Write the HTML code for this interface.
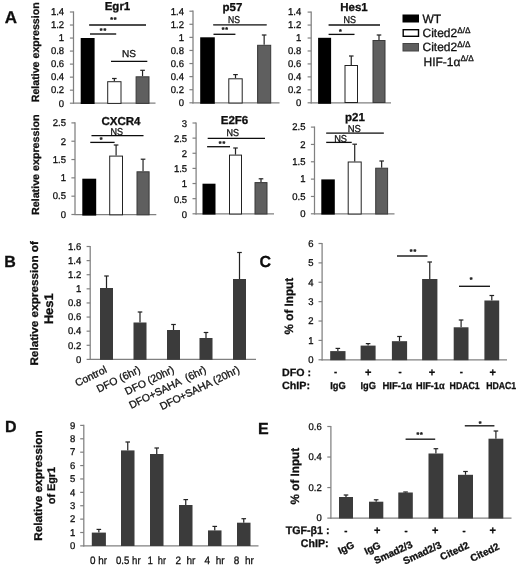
<!DOCTYPE html>
<html><head><meta charset="utf-8"><title>Figure</title>
<style>
html,body{margin:0;padding:0;background:#fff;}
svg{display:block;}
svg text{font-family:"Liberation Sans",sans-serif;fill:#111;stroke:#111;stroke-width:0.3px;text-rendering:geometricPrecision;}
</style></head>
<body>
<svg width="520" height="568" viewBox="0 0 520 568">
<defs><filter id="f" x="0" y="0" width="520" height="568" filterUnits="userSpaceOnUse"><feGaussianBlur stdDeviation="0.5"/></filter></defs>
<rect width="520" height="568" fill="#fff"/>
<g filter="url(#f)">
<text x="4.8" y="23.2" font-size="17" font-weight="bold">A</text>
<text x="39.1" y="102.3" font-size="10.5" font-weight="bold" transform="rotate(-90 39.1 102.3)" textLength="100" lengthAdjust="spacingAndGlyphs">Relative expression</text>
<text x="39.3" y="215" font-size="10.3" font-weight="bold" transform="rotate(-90 39.3 215)" textLength="100.5" lengthAdjust="spacingAndGlyphs">Relative expression</text>
<line x1="73.5" y1="11.4" x2="73.5" y2="103.8" stroke="#808080" stroke-width="1.25"/>
<line x1="73.0" y1="103.2" x2="155.5" y2="103.2" stroke="#808080" stroke-width="1.25"/>
<line x1="69.9" y1="103.2" x2="73.5" y2="103.2" stroke="#808080" stroke-width="1.2"/>
<text transform="translate(64.1 106.5) scale(0.97 1)" font-size="9.8" text-anchor="end">0</text>
<line x1="69.9" y1="90.17142857142858" x2="73.5" y2="90.17142857142858" stroke="#808080" stroke-width="1.2"/>
<text transform="translate(64.1 93.47) scale(0.97 1)" font-size="9.8" text-anchor="end">0.2</text>
<line x1="69.9" y1="77.14285714285714" x2="73.5" y2="77.14285714285714" stroke="#808080" stroke-width="1.2"/>
<text transform="translate(64.1 80.44) scale(0.97 1)" font-size="9.8" text-anchor="end">0.4</text>
<line x1="69.9" y1="64.11428571428571" x2="73.5" y2="64.11428571428571" stroke="#808080" stroke-width="1.2"/>
<text transform="translate(64.1 67.41) scale(0.97 1)" font-size="9.8" text-anchor="end">0.6</text>
<line x1="69.9" y1="51.08571428571428" x2="73.5" y2="51.08571428571428" stroke="#808080" stroke-width="1.2"/>
<text transform="translate(64.1 54.39) scale(0.97 1)" font-size="9.8" text-anchor="end">0.8</text>
<line x1="69.9" y1="38.05714285714285" x2="73.5" y2="38.05714285714285" stroke="#808080" stroke-width="1.2"/>
<text transform="translate(64.1 41.36) scale(0.97 1)" font-size="9.8" text-anchor="end">1</text>
<line x1="69.9" y1="25.028571428571425" x2="73.5" y2="25.028571428571425" stroke="#808080" stroke-width="1.2"/>
<text transform="translate(64.1 28.33) scale(0.97 1)" font-size="9.8" text-anchor="end">1.2</text>
<line x1="69.9" y1="12.0" x2="73.5" y2="12.0" stroke="#808080" stroke-width="1.2"/>
<text transform="translate(64.1 15.3) scale(0.97 1)" font-size="9.8" text-anchor="end">1.4</text>
<rect x="80.7" y="38" width="13.899999999999991" height="66" fill="#000"/>
<line x1="114.35" y1="78.5" x2="114.35" y2="81.2" stroke="#222" stroke-width="1.2"/>
<line x1="112.05" y1="78.5" x2="116.64999999999999" y2="78.5" stroke="#222" stroke-width="1.2"/>
<rect x="107.7" y="81.7" width="13.299999999999997" height="21.700000000000003" fill="#fff" stroke="#222" stroke-width="1"/>
<line x1="142.55" y1="70.3" x2="142.55" y2="76.3" stroke="#222" stroke-width="1.2"/>
<line x1="140.25" y1="70.3" x2="144.85000000000002" y2="70.3" stroke="#222" stroke-width="1.2"/>
<rect x="136.1" y="76.8" width="12.900000000000006" height="26.60000000000001" fill="#5e5e5e" stroke="#3a3a3a" stroke-width="1"/>
<text x="117.5" y="10" font-size="11.5" text-anchor="middle" font-weight="bold">Egr1</text>
<line x1="89.2" y1="25" x2="146" y2="25" stroke="#0a0a0a" stroke-width="1.3"/>
<line x1="90" y1="34" x2="116.2" y2="34" stroke="#0a0a0a" stroke-width="1.3"/>
<line x1="111" y1="61.3" x2="147.3" y2="61.3" stroke="#0a0a0a" stroke-width="1.3"/>
<text x="111.6" y="22.44" font-size="7" font-weight="bold" text-anchor="middle" stroke-width="0.5">*</text>
<text x="115.2" y="22.44" font-size="7" font-weight="bold" text-anchor="middle" stroke-width="0.5">*</text>
<text x="101.2" y="33.24" font-size="7" font-weight="bold" text-anchor="middle" stroke-width="0.5">*</text>
<text x="104.8" y="33.24" font-size="7" font-weight="bold" text-anchor="middle" stroke-width="0.5">*</text>
<text x="122" y="56.5" font-size="10" textLength="14" lengthAdjust="spacingAndGlyphs">NS</text>
<line x1="193" y1="10.6" x2="193" y2="103.39999999999999" stroke="#808080" stroke-width="1.25"/>
<line x1="192.5" y1="102.8" x2="279.5" y2="102.8" stroke="#808080" stroke-width="1.25"/>
<line x1="189.4" y1="102.8" x2="193" y2="102.8" stroke="#808080" stroke-width="1.2"/>
<text transform="translate(184 106.1) scale(0.97 1)" font-size="9.8" text-anchor="end">0</text>
<line x1="189.4" y1="89.71428571428571" x2="193" y2="89.71428571428571" stroke="#808080" stroke-width="1.2"/>
<text transform="translate(184 93.01) scale(0.97 1)" font-size="9.8" text-anchor="end">0.2</text>
<line x1="189.4" y1="76.62857142857142" x2="193" y2="76.62857142857142" stroke="#808080" stroke-width="1.2"/>
<text transform="translate(184 79.93) scale(0.97 1)" font-size="9.8" text-anchor="end">0.4</text>
<line x1="189.4" y1="63.542857142857144" x2="193" y2="63.542857142857144" stroke="#808080" stroke-width="1.2"/>
<text transform="translate(184 66.84) scale(0.97 1)" font-size="9.8" text-anchor="end">0.6</text>
<line x1="189.4" y1="50.45714285714285" x2="193" y2="50.45714285714285" stroke="#808080" stroke-width="1.2"/>
<text transform="translate(184 53.76) scale(0.97 1)" font-size="9.8" text-anchor="end">0.8</text>
<line x1="189.4" y1="37.37142857142857" x2="193" y2="37.37142857142857" stroke="#808080" stroke-width="1.2"/>
<text transform="translate(184 40.67) scale(0.97 1)" font-size="9.8" text-anchor="end">1</text>
<line x1="189.4" y1="24.285714285714292" x2="193" y2="24.285714285714292" stroke="#808080" stroke-width="1.2"/>
<text transform="translate(184 27.59) scale(0.97 1)" font-size="9.8" text-anchor="end">1.2</text>
<line x1="189.4" y1="11.200000000000003" x2="193" y2="11.200000000000003" stroke="#808080" stroke-width="1.2"/>
<text transform="translate(184 14.5) scale(0.97 1)" font-size="9.8" text-anchor="end">1.4</text>
<rect x="200.2" y="37.3" width="14.600000000000023" height="66.5" fill="#000"/>
<line x1="235.5" y1="74.6" x2="235.5" y2="78.3" stroke="#222" stroke-width="1.2"/>
<line x1="233.2" y1="74.6" x2="237.8" y2="74.6" stroke="#222" stroke-width="1.2"/>
<rect x="228.8" y="78.8" width="13.399999999999977" height="24.200000000000003" fill="#fff" stroke="#222" stroke-width="1"/>
<line x1="264.15" y1="35" x2="264.15" y2="44.8" stroke="#222" stroke-width="1.2"/>
<line x1="261.84999999999997" y1="35" x2="266.45" y2="35" stroke="#222" stroke-width="1.2"/>
<rect x="257.6" y="45.3" width="13.099999999999966" height="57.7" fill="#5e5e5e" stroke="#3a3a3a" stroke-width="1"/>
<text x="232.5" y="11" font-size="11.5" text-anchor="middle" font-weight="bold">p57</text>
<line x1="213.2" y1="24.8" x2="266.7" y2="24.8" stroke="#0a0a0a" stroke-width="1.3"/>
<line x1="213.5" y1="34.3" x2="235.4" y2="34.3" stroke="#0a0a0a" stroke-width="1.3"/>
<text x="228" y="22.5" font-size="10" textLength="12" lengthAdjust="spacingAndGlyphs">NS</text>
<text x="223.0" y="32.44" font-size="7" font-weight="bold" text-anchor="middle" stroke-width="0.5">*</text>
<text x="226.6" y="32.44" font-size="7" font-weight="bold" text-anchor="middle" stroke-width="0.5">*</text>
<line x1="311.2" y1="11.5" x2="311.2" y2="103.39999999999999" stroke="#808080" stroke-width="1.25"/>
<line x1="310.7" y1="102.8" x2="391" y2="102.8" stroke="#808080" stroke-width="1.25"/>
<line x1="307.59999999999997" y1="102.8" x2="311.2" y2="102.8" stroke="#808080" stroke-width="1.2"/>
<text transform="translate(301.2 106.1) scale(0.97 1)" font-size="9.8" text-anchor="end">0</text>
<line x1="307.59999999999997" y1="89.84285714285714" x2="311.2" y2="89.84285714285714" stroke="#808080" stroke-width="1.2"/>
<text transform="translate(301.2 93.14) scale(0.97 1)" font-size="9.8" text-anchor="end">0.2</text>
<line x1="307.59999999999997" y1="76.88571428571427" x2="311.2" y2="76.88571428571427" stroke="#808080" stroke-width="1.2"/>
<text transform="translate(301.2 80.19) scale(0.97 1)" font-size="9.8" text-anchor="end">0.4</text>
<line x1="307.59999999999997" y1="63.92857142857142" x2="311.2" y2="63.92857142857142" stroke="#808080" stroke-width="1.2"/>
<text transform="translate(301.2 67.23) scale(0.97 1)" font-size="9.8" text-anchor="end">0.6</text>
<line x1="307.59999999999997" y1="50.97142857142856" x2="311.2" y2="50.97142857142856" stroke="#808080" stroke-width="1.2"/>
<text transform="translate(301.2 54.27) scale(0.97 1)" font-size="9.8" text-anchor="end">0.8</text>
<line x1="307.59999999999997" y1="38.014285714285705" x2="311.2" y2="38.014285714285705" stroke="#808080" stroke-width="1.2"/>
<text transform="translate(301.2 41.31) scale(0.97 1)" font-size="9.8" text-anchor="end">1</text>
<line x1="307.59999999999997" y1="25.05714285714285" x2="311.2" y2="25.05714285714285" stroke="#808080" stroke-width="1.2"/>
<text transform="translate(301.2 28.36) scale(0.97 1)" font-size="9.8" text-anchor="end">1.2</text>
<line x1="307.59999999999997" y1="12.099999999999994" x2="311.2" y2="12.099999999999994" stroke="#808080" stroke-width="1.2"/>
<text transform="translate(301.2 15.4) scale(0.97 1)" font-size="9.8" text-anchor="end">1.4</text>
<rect x="318.1" y="37.8" width="13.0" height="66.0" fill="#000"/>
<line x1="351.25" y1="56" x2="351.25" y2="65" stroke="#222" stroke-width="1.2"/>
<line x1="348.95" y1="56" x2="353.55" y2="56" stroke="#222" stroke-width="1.2"/>
<rect x="345.0" y="65.5" width="12.5" height="37.0" fill="#fff" stroke="#222" stroke-width="1"/>
<line x1="379.0" y1="35" x2="379.0" y2="40" stroke="#222" stroke-width="1.2"/>
<line x1="376.7" y1="35" x2="381.3" y2="35" stroke="#222" stroke-width="1.2"/>
<rect x="373.0" y="40.5" width="12.0" height="62.0" fill="#5e5e5e" stroke="#3a3a3a" stroke-width="1"/>
<text x="354" y="11" font-size="11.5" text-anchor="middle" font-weight="bold">Hes1</text>
<line x1="328.6" y1="25" x2="380" y2="25" stroke="#0a0a0a" stroke-width="1.3"/>
<line x1="328.6" y1="34.4" x2="354.5" y2="34.4" stroke="#0a0a0a" stroke-width="1.3"/>
<text x="343.5" y="22.5" font-size="10" textLength="12.5" lengthAdjust="spacingAndGlyphs">NS</text>
<text x="340.4" y="33.54" font-size="7" font-weight="bold" text-anchor="middle" stroke-width="0.5">*</text>
<rect x="402.5" y="14.5" width="16.5" height="8" fill="#000"/>
<rect x="403.2" y="29.7" width="15.3" height="6.6" fill="#fff" stroke="#000" stroke-width="1.4"/>
<rect x="403" y="43.5" width="15.5" height="7.5" fill="#5e5e5e" stroke="#444" stroke-width="1"/>
<text x="422.5" y="22.5" font-size="12">WT</text>
<text x="422.5" y="37" font-size="12">Cited2<tspan font-size="8.2" dy="-4.3">Δ/Δ</tspan></text>
<text x="422.5" y="51" font-size="12">Cited2<tspan font-size="8.2" dy="-4.3">Δ/Δ</tspan></text>
<text x="423.5" y="65.5" font-size="12">HIF-1α<tspan font-size="8.2" dy="-4.3">Δ/Δ</tspan></text>
<line x1="75" y1="122.30000000000001" x2="75" y2="215.1" stroke="#808080" stroke-width="1.25"/>
<line x1="74.5" y1="214.5" x2="156.3" y2="214.5" stroke="#808080" stroke-width="1.25"/>
<line x1="71.4" y1="214.5" x2="75" y2="214.5" stroke="#808080" stroke-width="1.2"/>
<text transform="translate(66 217.8) scale(0.97 1)" font-size="9.8" text-anchor="end">0</text>
<line x1="71.4" y1="196.18" x2="75" y2="196.18" stroke="#808080" stroke-width="1.2"/>
<text transform="translate(66 199.48) scale(0.97 1)" font-size="9.8" text-anchor="end">0.5</text>
<line x1="71.4" y1="177.86" x2="75" y2="177.86" stroke="#808080" stroke-width="1.2"/>
<text transform="translate(66 181.16) scale(0.97 1)" font-size="9.8" text-anchor="end">1</text>
<line x1="71.4" y1="159.54000000000002" x2="75" y2="159.54000000000002" stroke="#808080" stroke-width="1.2"/>
<text transform="translate(66 162.84) scale(0.97 1)" font-size="9.8" text-anchor="end">1.5</text>
<line x1="71.4" y1="141.22" x2="75" y2="141.22" stroke="#808080" stroke-width="1.2"/>
<text transform="translate(66 144.52) scale(0.97 1)" font-size="9.8" text-anchor="end">2</text>
<line x1="71.4" y1="122.9" x2="75" y2="122.9" stroke="#808080" stroke-width="1.2"/>
<text transform="translate(66 126.2) scale(0.97 1)" font-size="9.8" text-anchor="end">2.5</text>
<rect x="82.3" y="178.7" width="13.900000000000006" height="36.900000000000006" fill="#000"/>
<line x1="116.1" y1="145" x2="116.1" y2="155.6" stroke="#222" stroke-width="1.2"/>
<line x1="113.8" y1="145" x2="118.39999999999999" y2="145" stroke="#222" stroke-width="1.2"/>
<rect x="109.7" y="156.1" width="12.799999999999997" height="58.70000000000002" fill="#fff" stroke="#222" stroke-width="1"/>
<line x1="143.05" y1="159.2" x2="143.05" y2="171.3" stroke="#222" stroke-width="1.2"/>
<line x1="140.75" y1="159.2" x2="145.35000000000002" y2="159.2" stroke="#222" stroke-width="1.2"/>
<rect x="137.0" y="171.8" width="12.099999999999994" height="43.0" fill="#5e5e5e" stroke="#3a3a3a" stroke-width="1"/>
<text x="121" y="124.5" font-size="11.5" text-anchor="middle" font-weight="bold">CXCR4</text>
<line x1="91.5" y1="135.7" x2="143.5" y2="135.7" stroke="#0a0a0a" stroke-width="1.3"/>
<line x1="90.3" y1="142.4" x2="114.6" y2="142.4" stroke="#0a0a0a" stroke-width="1.3"/>
<text x="110.6" y="135.0" font-size="10" textLength="12.5" lengthAdjust="spacingAndGlyphs">NS</text>
<text x="101.0" y="141.74" font-size="7" font-weight="bold" text-anchor="middle" stroke-width="0.5">*</text>
<line x1="196.1" y1="122.4" x2="196.1" y2="214.4" stroke="#808080" stroke-width="1.25"/>
<line x1="195.6" y1="213.8" x2="274" y2="213.8" stroke="#808080" stroke-width="1.25"/>
<line x1="192.5" y1="213.8" x2="196.1" y2="213.8" stroke="#808080" stroke-width="1.2"/>
<text transform="translate(187.1 217.7) scale(0.97 1)" font-size="9.8" text-anchor="end">0</text>
<line x1="192.5" y1="198.66666666666669" x2="196.1" y2="198.66666666666669" stroke="#808080" stroke-width="1.2"/>
<text transform="translate(187.1 202.57) scale(0.97 1)" font-size="9.8" text-anchor="end">0.5</text>
<line x1="192.5" y1="183.53333333333333" x2="196.1" y2="183.53333333333333" stroke="#808080" stroke-width="1.2"/>
<text transform="translate(187.1 187.43) scale(0.97 1)" font-size="9.8" text-anchor="end">1</text>
<line x1="192.5" y1="168.4" x2="196.1" y2="168.4" stroke="#808080" stroke-width="1.2"/>
<text transform="translate(187.1 172.3) scale(0.97 1)" font-size="9.8" text-anchor="end">1.5</text>
<line x1="192.5" y1="153.26666666666668" x2="196.1" y2="153.26666666666668" stroke="#808080" stroke-width="1.2"/>
<text transform="translate(187.1 157.17) scale(0.97 1)" font-size="9.8" text-anchor="end">2</text>
<line x1="192.5" y1="138.13333333333333" x2="196.1" y2="138.13333333333333" stroke="#808080" stroke-width="1.2"/>
<text transform="translate(187.1 142.03) scale(0.97 1)" font-size="9.8" text-anchor="end">2.5</text>
<line x1="192.5" y1="123.0" x2="196.1" y2="123.0" stroke="#808080" stroke-width="1.2"/>
<text transform="translate(187.1 126.9) scale(0.97 1)" font-size="9.8" text-anchor="end">3</text>
<rect x="202.5" y="183.7" width="13.0" height="30.900000000000006" fill="#000"/>
<line x1="235.5" y1="148" x2="235.5" y2="154.6" stroke="#222" stroke-width="1.2"/>
<line x1="233.2" y1="148" x2="237.8" y2="148" stroke="#222" stroke-width="1.2"/>
<rect x="229.5" y="155.1" width="12" height="58.900000000000006" fill="#fff" stroke="#222" stroke-width="1"/>
<line x1="261.0" y1="178.8" x2="261.0" y2="182.1" stroke="#222" stroke-width="1.2"/>
<line x1="258.7" y1="178.8" x2="263.3" y2="178.8" stroke="#222" stroke-width="1.2"/>
<rect x="255.0" y="182.6" width="12.0" height="31.400000000000006" fill="#5e5e5e" stroke="#3a3a3a" stroke-width="1"/>
<text x="234.5" y="124" font-size="11.5" text-anchor="middle" font-weight="bold">E2F6</text>
<line x1="207.7" y1="138.3" x2="265" y2="138.3" stroke="#0a0a0a" stroke-width="1.3"/>
<line x1="207.1" y1="146.7" x2="230" y2="146.7" stroke="#0a0a0a" stroke-width="1.3"/>
<text x="226.5" y="135.7" font-size="10" textLength="12.5" lengthAdjust="spacingAndGlyphs">NS</text>
<text x="220.2" y="146.14" font-size="7" font-weight="bold" text-anchor="middle" stroke-width="0.5">*</text>
<text x="223.8" y="146.14" font-size="7" font-weight="bold" text-anchor="middle" stroke-width="0.5">*</text>
<line x1="314.5" y1="126.5" x2="314.5" y2="214.4" stroke="#808080" stroke-width="1.25"/>
<line x1="314.0" y1="213.8" x2="394.5" y2="213.8" stroke="#808080" stroke-width="1.25"/>
<line x1="310.9" y1="213.8" x2="314.5" y2="213.8" stroke="#808080" stroke-width="1.2"/>
<text transform="translate(305.5 217.1) scale(0.97 1)" font-size="9.8" text-anchor="end">0</text>
<line x1="310.9" y1="196.46" x2="314.5" y2="196.46" stroke="#808080" stroke-width="1.2"/>
<text transform="translate(305.5 199.76) scale(0.97 1)" font-size="9.8" text-anchor="end">0.5</text>
<line x1="310.9" y1="179.12" x2="314.5" y2="179.12" stroke="#808080" stroke-width="1.2"/>
<text transform="translate(305.5 182.42) scale(0.97 1)" font-size="9.8" text-anchor="end">1</text>
<line x1="310.9" y1="161.78" x2="314.5" y2="161.78" stroke="#808080" stroke-width="1.2"/>
<text transform="translate(305.5 165.08) scale(0.97 1)" font-size="9.8" text-anchor="end">1.5</text>
<line x1="310.9" y1="144.44" x2="314.5" y2="144.44" stroke="#808080" stroke-width="1.2"/>
<text transform="translate(305.5 147.74) scale(0.97 1)" font-size="9.8" text-anchor="end">2</text>
<line x1="310.9" y1="127.1" x2="314.5" y2="127.1" stroke="#808080" stroke-width="1.2"/>
<text transform="translate(305.5 130.4) scale(0.97 1)" font-size="9.8" text-anchor="end">2.5</text>
<rect x="321.3" y="179.4" width="13.5" height="35.19999999999999" fill="#000"/>
<line x1="354.7" y1="144.2" x2="354.7" y2="161.5" stroke="#222" stroke-width="1.2"/>
<line x1="352.4" y1="144.2" x2="357.0" y2="144.2" stroke="#222" stroke-width="1.2"/>
<rect x="348.2" y="162.0" width="13.0" height="52.0" fill="#fff" stroke="#222" stroke-width="1"/>
<line x1="381.65" y1="161" x2="381.65" y2="167.7" stroke="#222" stroke-width="1.2"/>
<line x1="379.34999999999997" y1="161" x2="383.95" y2="161" stroke="#222" stroke-width="1.2"/>
<rect x="375.7" y="168.2" width="11.900000000000034" height="45.80000000000001" fill="#5e5e5e" stroke="#3a3a3a" stroke-width="1"/>
<text x="355" y="121" font-size="11.5" text-anchor="middle" font-weight="bold">p21</text>
<line x1="326.2" y1="133.1" x2="383.8" y2="133.1" stroke="#0a0a0a" stroke-width="1.3"/>
<line x1="326.2" y1="142.4" x2="351.7" y2="142.4" stroke="#0a0a0a" stroke-width="1.3"/>
<text x="347.7" y="132.2" font-size="10" textLength="13.1" lengthAdjust="spacingAndGlyphs">NS</text>
<text x="334.2" y="141.89999999999998" font-size="10" textLength="12.8" lengthAdjust="spacingAndGlyphs">NS</text>
<text x="4.2" y="267" font-size="16" font-weight="bold">B</text>
<text x="38.2" y="365.6" font-size="11" font-weight="bold" transform="rotate(-90 38.2 365.6)" textLength="124.5" lengthAdjust="spacingAndGlyphs">Relative expression of</text>
<text x="52.6" y="324.3" font-size="12.5" font-weight="bold" transform="rotate(-90 52.6 324.3)" textLength="31" lengthAdjust="spacingAndGlyphs">Hes1</text>
<line x1="90.2" y1="245.9" x2="90.2" y2="360.0" stroke="#808080" stroke-width="1.25"/>
<line x1="89.7" y1="359.4" x2="256" y2="359.4" stroke="#808080" stroke-width="1.25"/>
<line x1="86.60000000000001" y1="359.4" x2="90.2" y2="359.4" stroke="#808080" stroke-width="1.2"/>
<text transform="translate(81.2 362.7) scale(0.97 1)" font-size="9.8" text-anchor="end">0</text>
<line x1="86.60000000000001" y1="345.28749999999997" x2="90.2" y2="345.28749999999997" stroke="#808080" stroke-width="1.2"/>
<text transform="translate(81.2 348.59) scale(0.97 1)" font-size="9.8" text-anchor="end">0.2</text>
<line x1="86.60000000000001" y1="331.17499999999995" x2="90.2" y2="331.17499999999995" stroke="#808080" stroke-width="1.2"/>
<text transform="translate(81.2 334.47) scale(0.97 1)" font-size="9.8" text-anchor="end">0.4</text>
<line x1="86.60000000000001" y1="317.0625" x2="90.2" y2="317.0625" stroke="#808080" stroke-width="1.2"/>
<text transform="translate(81.2 320.36) scale(0.97 1)" font-size="9.8" text-anchor="end">0.6</text>
<line x1="86.60000000000001" y1="302.95" x2="90.2" y2="302.95" stroke="#808080" stroke-width="1.2"/>
<text transform="translate(81.2 306.25) scale(0.97 1)" font-size="9.8" text-anchor="end">0.8</text>
<line x1="86.60000000000001" y1="288.8375" x2="90.2" y2="288.8375" stroke="#808080" stroke-width="1.2"/>
<text transform="translate(81.2 292.14) scale(0.97 1)" font-size="9.8" text-anchor="end">1</text>
<line x1="86.60000000000001" y1="274.725" x2="90.2" y2="274.725" stroke="#808080" stroke-width="1.2"/>
<text transform="translate(81.2 278.03) scale(0.97 1)" font-size="9.8" text-anchor="end">1.2</text>
<line x1="86.60000000000001" y1="260.6125" x2="90.2" y2="260.6125" stroke="#808080" stroke-width="1.2"/>
<text transform="translate(81.2 263.91) scale(0.97 1)" font-size="9.8" text-anchor="end">1.4</text>
<line x1="86.60000000000001" y1="246.5" x2="90.2" y2="246.5" stroke="#808080" stroke-width="1.2"/>
<text transform="translate(81.2 249.8) scale(0.97 1)" font-size="9.8" text-anchor="end">1.6</text>
<line x1="106.5" y1="276" x2="106.5" y2="288" stroke="#222" stroke-width="1.2"/>
<line x1="104.2" y1="276" x2="108.8" y2="276" stroke="#222" stroke-width="1.2"/>
<rect x="100" y="288" width="13" height="71.80000000000001" fill="#3a3a3a"/>
<line x1="140.0" y1="312" x2="140.0" y2="322.5" stroke="#222" stroke-width="1.2"/>
<line x1="137.7" y1="312" x2="142.3" y2="312" stroke="#222" stroke-width="1.2"/>
<rect x="133.5" y="322.5" width="13.0" height="37.30000000000001" fill="#3a3a3a"/>
<line x1="173.5" y1="324.5" x2="173.5" y2="330" stroke="#222" stroke-width="1.2"/>
<line x1="171.2" y1="324.5" x2="175.8" y2="324.5" stroke="#222" stroke-width="1.2"/>
<rect x="167" y="330" width="13" height="29.80000000000001" fill="#3a3a3a"/>
<line x1="206.0" y1="332.5" x2="206.0" y2="338" stroke="#222" stroke-width="1.2"/>
<line x1="203.7" y1="332.5" x2="208.3" y2="332.5" stroke="#222" stroke-width="1.2"/>
<rect x="199.5" y="338" width="13.0" height="21.80000000000001" fill="#3a3a3a"/>
<line x1="239.5" y1="252.5" x2="239.5" y2="279" stroke="#222" stroke-width="1.2"/>
<line x1="237.2" y1="252.5" x2="241.8" y2="252.5" stroke="#222" stroke-width="1.2"/>
<rect x="233" y="279" width="13" height="80.80000000000001" fill="#3a3a3a"/>
<text x="107.6" y="372" font-size="10.5" text-anchor="end" transform="rotate(-26 107.6 372)" xml:space="preserve">Control</text>
<text x="141.2" y="372" font-size="10.5" text-anchor="end" transform="rotate(-26 141.2 372)" xml:space="preserve">DFO (6hr)</text>
<text x="174.8" y="372" font-size="10.5" text-anchor="end" transform="rotate(-26 174.8 372)" xml:space="preserve">DFO (20hr)</text>
<text x="207" y="372" font-size="10.5" text-anchor="end" transform="rotate(-26 207 372)" xml:space="preserve">DFO+SAHA  (6hr)</text>
<text x="240.3" y="372" font-size="10.5" text-anchor="end" transform="rotate(-26 240.3 372)" xml:space="preserve">DFO+SAHA (20hr)</text>
<text x="259.5" y="266.5" font-size="16" font-weight="bold">C</text>
<text x="293.4" y="334.4" font-size="12" font-weight="bold" transform="rotate(-90 293.4 334.4)" textLength="56.5" lengthAdjust="spacingAndGlyphs">% of Input</text>
<line x1="322.1" y1="242.9" x2="322.1" y2="360.40000000000003" stroke="#808080" stroke-width="1.25"/>
<line x1="321.6" y1="359.8" x2="507" y2="359.8" stroke="#808080" stroke-width="1.25"/>
<line x1="318.5" y1="359.8" x2="322.1" y2="359.8" stroke="#808080" stroke-width="1.2"/>
<text transform="translate(313.5 363.1) scale(0.97 1)" font-size="9.8" text-anchor="end">0</text>
<line x1="318.5" y1="340.4166666666667" x2="322.1" y2="340.4166666666667" stroke="#808080" stroke-width="1.2"/>
<text transform="translate(313.5 343.72) scale(0.97 1)" font-size="9.8" text-anchor="end">1</text>
<line x1="318.5" y1="321.03333333333336" x2="322.1" y2="321.03333333333336" stroke="#808080" stroke-width="1.2"/>
<text transform="translate(313.5 324.33) scale(0.97 1)" font-size="9.8" text-anchor="end">2</text>
<line x1="318.5" y1="301.65" x2="322.1" y2="301.65" stroke="#808080" stroke-width="1.2"/>
<text transform="translate(313.5 304.95) scale(0.97 1)" font-size="9.8" text-anchor="end">3</text>
<line x1="318.5" y1="282.26666666666665" x2="322.1" y2="282.26666666666665" stroke="#808080" stroke-width="1.2"/>
<text transform="translate(313.5 285.57) scale(0.97 1)" font-size="9.8" text-anchor="end">4</text>
<line x1="318.5" y1="262.8833333333333" x2="322.1" y2="262.8833333333333" stroke="#808080" stroke-width="1.2"/>
<text transform="translate(313.5 266.18) scale(0.97 1)" font-size="9.8" text-anchor="end">5</text>
<line x1="318.5" y1="243.5" x2="322.1" y2="243.5" stroke="#808080" stroke-width="1.2"/>
<text transform="translate(313.5 246.8) scale(0.97 1)" font-size="9.8" text-anchor="end">6</text>
<line x1="337.85" y1="348.4" x2="337.85" y2="351.1" stroke="#222" stroke-width="1.2"/>
<line x1="335.55" y1="348.4" x2="340.15000000000003" y2="348.4" stroke="#222" stroke-width="1.2"/>
<rect x="330.2" y="351.1" width="15.300000000000011" height="9.099999999999966" fill="#3a3a3a"/>
<line x1="368.1" y1="343.6" x2="368.1" y2="345.6" stroke="#222" stroke-width="1.2"/>
<line x1="365.8" y1="343.6" x2="370.40000000000003" y2="343.6" stroke="#222" stroke-width="1.2"/>
<rect x="360.6" y="345.6" width="15.0" height="14.599999999999966" fill="#3a3a3a"/>
<line x1="399.5" y1="336.5" x2="399.5" y2="341.2" stroke="#222" stroke-width="1.2"/>
<line x1="397.2" y1="336.5" x2="401.8" y2="336.5" stroke="#222" stroke-width="1.2"/>
<rect x="391.9" y="341.2" width="15.200000000000045" height="19.0" fill="#3a3a3a"/>
<line x1="429.75" y1="262" x2="429.75" y2="279" stroke="#222" stroke-width="1.2"/>
<line x1="427.45" y1="262" x2="432.05" y2="262" stroke="#222" stroke-width="1.2"/>
<rect x="422.1" y="279" width="15.299999999999955" height="81.19999999999999" fill="#3a3a3a"/>
<line x1="461.1" y1="320" x2="461.1" y2="327.3" stroke="#222" stroke-width="1.2"/>
<line x1="458.8" y1="320" x2="463.40000000000003" y2="320" stroke="#222" stroke-width="1.2"/>
<rect x="453.7" y="327.3" width="14.800000000000011" height="32.89999999999998" fill="#3a3a3a"/>
<line x1="491.79999999999995" y1="295.5" x2="491.79999999999995" y2="300.5" stroke="#222" stroke-width="1.2"/>
<line x1="489.49999999999994" y1="295.5" x2="494.09999999999997" y2="295.5" stroke="#222" stroke-width="1.2"/>
<rect x="484.4" y="300.5" width="14.800000000000011" height="59.69999999999999" fill="#3a3a3a"/>
<line x1="397" y1="256" x2="427.5" y2="256" stroke="#0a0a0a" stroke-width="1.3"/>
<line x1="459" y1="286.3" x2="490" y2="286.3" stroke="#0a0a0a" stroke-width="1.3"/>
<text x="411.2" y="253.54" font-size="7" font-weight="bold" text-anchor="middle" stroke-width="0.5">*</text>
<text x="414.8" y="253.54" font-size="7" font-weight="bold" text-anchor="middle" stroke-width="0.5">*</text>
<text x="471.2" y="281.54" font-size="7" font-weight="bold" text-anchor="middle" stroke-width="0.5">*</text>
<text x="282" y="375.5" font-size="10.5" font-weight="bold" textLength="29" lengthAdjust="spacingAndGlyphs">DFO :</text>
<text x="282" y="388.5" font-size="10.5" font-weight="bold" textLength="28" lengthAdjust="spacingAndGlyphs">ChIP:</text>
<text x="335.6" y="375.4" font-size="9.5" text-anchor="middle" font-weight="bold">-</text>
<text x="368.3" y="375.6" font-size="11" text-anchor="middle" font-weight="bold">+</text>
<text x="400" y="375.4" font-size="9.5" text-anchor="middle" font-weight="bold">-</text>
<text x="431.9" y="375.6" font-size="11" text-anchor="middle" font-weight="bold">+</text>
<text x="461.3" y="375.4" font-size="9.5" text-anchor="middle" font-weight="bold">-</text>
<text x="492.7" y="375.6" font-size="11" text-anchor="middle" font-weight="bold">+</text>
<text x="330.2" y="388.5" font-size="10" font-weight="bold" textLength="15.5" lengthAdjust="spacingAndGlyphs">IgG</text>
<text x="360.5" y="388.5" font-size="10" font-weight="bold" textLength="15.5" lengthAdjust="spacingAndGlyphs">IgG</text>
<text x="382.5" y="388.5" font-size="10" font-weight="bold" textLength="29.5" lengthAdjust="spacingAndGlyphs">HIF-1α</text>
<text x="416" y="388.5" font-size="10" font-weight="bold" textLength="28.6" lengthAdjust="spacingAndGlyphs">HIF-1α</text>
<text x="449.6" y="388.5" font-size="10" font-weight="bold" textLength="30.0" lengthAdjust="spacingAndGlyphs">HDAC1</text>
<text x="486.2" y="388.5" font-size="10" font-weight="bold" textLength="30.0" lengthAdjust="spacingAndGlyphs">HDAC1</text>
<text x="5" y="431.5" font-size="16" font-weight="bold">D</text>
<text x="42.3" y="540.8" font-size="11.3" font-weight="bold" transform="rotate(-90 42.3 540.8)" textLength="110.5" lengthAdjust="spacingAndGlyphs">Relative expression</text>
<text x="54.8" y="504.2" font-size="11" font-weight="bold" transform="rotate(-90 54.8 504.2)" textLength="37.3" lengthAdjust="spacingAndGlyphs">of Egr1</text>
<line x1="83.8" y1="424.79999999999995" x2="83.8" y2="546.5" stroke="#808080" stroke-width="1.25"/>
<line x1="83.3" y1="545.9" x2="258.5" y2="545.9" stroke="#808080" stroke-width="1.25"/>
<line x1="80.2" y1="545.9" x2="83.8" y2="545.9" stroke="#808080" stroke-width="1.2"/>
<text transform="translate(75.2 549.2) scale(0.97 1)" font-size="9.8" text-anchor="end">0</text>
<line x1="80.2" y1="532.5111111111111" x2="83.8" y2="532.5111111111111" stroke="#808080" stroke-width="1.2"/>
<text transform="translate(75.2 535.81) scale(0.97 1)" font-size="9.8" text-anchor="end">1</text>
<line x1="80.2" y1="519.1222222222221" x2="83.8" y2="519.1222222222221" stroke="#808080" stroke-width="1.2"/>
<text transform="translate(75.2 522.42) scale(0.97 1)" font-size="9.8" text-anchor="end">2</text>
<line x1="80.2" y1="505.7333333333333" x2="83.8" y2="505.7333333333333" stroke="#808080" stroke-width="1.2"/>
<text transform="translate(75.2 509.03) scale(0.97 1)" font-size="9.8" text-anchor="end">3</text>
<line x1="80.2" y1="492.34444444444443" x2="83.8" y2="492.34444444444443" stroke="#808080" stroke-width="1.2"/>
<text transform="translate(75.2 495.64) scale(0.97 1)" font-size="9.8" text-anchor="end">4</text>
<line x1="80.2" y1="478.9555555555555" x2="83.8" y2="478.9555555555555" stroke="#808080" stroke-width="1.2"/>
<text transform="translate(75.2 482.26) scale(0.97 1)" font-size="9.8" text-anchor="end">5</text>
<line x1="80.2" y1="465.56666666666666" x2="83.8" y2="465.56666666666666" stroke="#808080" stroke-width="1.2"/>
<text transform="translate(75.2 468.87) scale(0.97 1)" font-size="9.8" text-anchor="end">6</text>
<line x1="80.2" y1="452.17777777777775" x2="83.8" y2="452.17777777777775" stroke="#808080" stroke-width="1.2"/>
<text transform="translate(75.2 455.48) scale(0.97 1)" font-size="9.8" text-anchor="end">7</text>
<line x1="80.2" y1="438.7888888888889" x2="83.8" y2="438.7888888888889" stroke="#808080" stroke-width="1.2"/>
<text transform="translate(75.2 442.09) scale(0.97 1)" font-size="9.8" text-anchor="end">8</text>
<line x1="80.2" y1="425.4" x2="83.8" y2="425.4" stroke="#808080" stroke-width="1.2"/>
<text transform="translate(75.2 428.7) scale(0.97 1)" font-size="9.8" text-anchor="end">9</text>
<line x1="98.85" y1="529.4" x2="98.85" y2="532.6" stroke="#222" stroke-width="1.2"/>
<line x1="96.55" y1="529.4" x2="101.14999999999999" y2="529.4" stroke="#222" stroke-width="1.2"/>
<rect x="91.8" y="532.6" width="14.100000000000009" height="13.399999999999977" fill="#3a3a3a"/>
<line x1="127.75" y1="442" x2="127.75" y2="450.4" stroke="#222" stroke-width="1.2"/>
<line x1="125.45" y1="442" x2="130.05" y2="442" stroke="#222" stroke-width="1.2"/>
<rect x="121" y="450.4" width="13.5" height="95.60000000000002" fill="#3a3a3a"/>
<line x1="156.75" y1="448" x2="156.75" y2="454" stroke="#222" stroke-width="1.2"/>
<line x1="154.45" y1="448" x2="159.05" y2="448" stroke="#222" stroke-width="1.2"/>
<rect x="150" y="454" width="13.5" height="92" fill="#3a3a3a"/>
<line x1="185.75" y1="499.6" x2="185.75" y2="505" stroke="#222" stroke-width="1.2"/>
<line x1="183.45" y1="499.6" x2="188.05" y2="499.6" stroke="#222" stroke-width="1.2"/>
<rect x="179" y="505" width="13.5" height="41" fill="#3a3a3a"/>
<line x1="214.75" y1="526.4" x2="214.75" y2="530.4" stroke="#222" stroke-width="1.2"/>
<line x1="212.45" y1="526.4" x2="217.05" y2="526.4" stroke="#222" stroke-width="1.2"/>
<rect x="208" y="530.4" width="13.5" height="15.600000000000023" fill="#3a3a3a"/>
<line x1="243.75" y1="518.7" x2="243.75" y2="522.7" stroke="#222" stroke-width="1.2"/>
<line x1="241.45" y1="518.7" x2="246.05" y2="518.7" stroke="#222" stroke-width="1.2"/>
<rect x="237" y="522.7" width="13.5" height="23.299999999999955" fill="#3a3a3a"/>
<text x="90" y="563.6" font-size="10.8" textLength="17" lengthAdjust="spacingAndGlyphs" xml:space="preserve">0 hr</text>
<text x="116" y="563.6" font-size="10.8" textLength="24.599999999999994" lengthAdjust="spacingAndGlyphs" xml:space="preserve">0.5 hr</text>
<text x="147.7" y="563.6" font-size="10.8" textLength="18.30000000000001" lengthAdjust="spacingAndGlyphs" xml:space="preserve">1  hr</text>
<text x="175.4" y="563.6" font-size="10.8" textLength="20.0" lengthAdjust="spacingAndGlyphs" xml:space="preserve">2  hr</text>
<text x="204.6" y="563.6" font-size="10.8" textLength="20.0" lengthAdjust="spacingAndGlyphs" xml:space="preserve">4  hr</text>
<text x="233.8" y="563.6" font-size="10.8" textLength="20.0" lengthAdjust="spacingAndGlyphs" xml:space="preserve">8  hr</text>
<text x="258" y="433.5" font-size="16" font-weight="bold">E</text>
<text x="299.2" y="504.4" font-size="12" font-weight="bold" transform="rotate(-90 299.2 504.4)" textLength="56.5" lengthAdjust="spacingAndGlyphs">% of Input</text>
<line x1="330.9" y1="425.9" x2="330.9" y2="518.7" stroke="#808080" stroke-width="1.25"/>
<line x1="330.4" y1="518.1" x2="511.5" y2="518.1" stroke="#808080" stroke-width="1.25"/>
<line x1="327.29999999999995" y1="518.1" x2="330.9" y2="518.1" stroke="#808080" stroke-width="1.2"/>
<text transform="translate(321.7 521.4) scale(0.97 1)" font-size="9.8" text-anchor="end">0</text>
<line x1="327.29999999999995" y1="487.56666666666666" x2="330.9" y2="487.56666666666666" stroke="#808080" stroke-width="1.2"/>
<text transform="translate(321.7 490.87) scale(0.97 1)" font-size="9.8" text-anchor="end">0.2</text>
<line x1="327.29999999999995" y1="457.03333333333336" x2="330.9" y2="457.03333333333336" stroke="#808080" stroke-width="1.2"/>
<text transform="translate(321.7 460.33) scale(0.97 1)" font-size="9.8" text-anchor="end">0.4</text>
<line x1="327.29999999999995" y1="426.5" x2="330.9" y2="426.5" stroke="#808080" stroke-width="1.2"/>
<text transform="translate(321.7 429.8) scale(0.97 1)" font-size="9.8" text-anchor="end">0.6</text>
<line x1="346.0" y1="495" x2="346.0" y2="497" stroke="#222" stroke-width="1.2"/>
<line x1="343.7" y1="495" x2="348.3" y2="495" stroke="#222" stroke-width="1.2"/>
<rect x="339" y="497" width="14" height="21.5" fill="#3a3a3a"/>
<line x1="376.15" y1="499.8" x2="376.15" y2="501.7" stroke="#222" stroke-width="1.2"/>
<line x1="373.84999999999997" y1="499.8" x2="378.45" y2="499.8" stroke="#222" stroke-width="1.2"/>
<rect x="369" y="501.7" width="14.300000000000011" height="16.80000000000001" fill="#3a3a3a"/>
<line x1="405.55" y1="492" x2="405.55" y2="492.5" stroke="#222" stroke-width="1.2"/>
<line x1="403.25" y1="492" x2="407.85" y2="492" stroke="#222" stroke-width="1.2"/>
<rect x="398.3" y="492.5" width="14.5" height="26.0" fill="#3a3a3a"/>
<line x1="435.9" y1="448.7" x2="435.9" y2="453.5" stroke="#222" stroke-width="1.2"/>
<line x1="433.59999999999997" y1="448.7" x2="438.2" y2="448.7" stroke="#222" stroke-width="1.2"/>
<rect x="428.5" y="453.5" width="14.800000000000011" height="65.0" fill="#3a3a3a"/>
<line x1="465.5" y1="471.5" x2="465.5" y2="474.8" stroke="#222" stroke-width="1.2"/>
<line x1="463.2" y1="471.5" x2="467.8" y2="471.5" stroke="#222" stroke-width="1.2"/>
<rect x="458" y="474.8" width="15" height="43.69999999999999" fill="#3a3a3a"/>
<line x1="495.9" y1="431" x2="495.9" y2="438.7" stroke="#222" stroke-width="1.2"/>
<line x1="493.59999999999997" y1="431" x2="498.2" y2="431" stroke="#222" stroke-width="1.2"/>
<rect x="488.5" y="438.7" width="14.800000000000011" height="79.80000000000001" fill="#3a3a3a"/>
<line x1="405.6" y1="439.2" x2="435.2" y2="439.2" stroke="#0a0a0a" stroke-width="1.3"/>
<line x1="464.8" y1="425.8" x2="494.4" y2="425.8" stroke="#0a0a0a" stroke-width="1.3"/>
<text x="417.8" y="437.14" font-size="7" font-weight="bold" text-anchor="middle" stroke-width="0.5">*</text>
<text x="421.4" y="437.14" font-size="7" font-weight="bold" text-anchor="middle" stroke-width="0.5">*</text>
<text x="480.0" y="425.54" font-size="7" font-weight="bold" text-anchor="middle" stroke-width="0.5">*</text>
<text x="285.8" y="534.4" font-size="11" font-weight="bold" textLength="43.7" lengthAdjust="spacingAndGlyphs">TGF-β1 :</text>
<text x="300.8" y="547.3" font-size="11" font-weight="bold" textLength="27.7" lengthAdjust="spacingAndGlyphs">ChIP:</text>
<text x="345.8" y="534.4" font-size="9.5" text-anchor="middle" font-weight="bold">-</text>
<text x="377.1" y="534.2" font-size="11" text-anchor="middle" font-weight="bold">+</text>
<text x="406" y="534.4" font-size="9.5" text-anchor="middle" font-weight="bold">-</text>
<text x="435.2" y="534.2" font-size="11" text-anchor="middle" font-weight="bold">+</text>
<text x="464.2" y="534.4" font-size="9.5" text-anchor="middle" font-weight="bold">-</text>
<text x="492.7" y="534.2" font-size="11" text-anchor="middle" font-weight="bold">+</text>
<text x="355" y="547.3" font-size="10" font-weight="bold" text-anchor="end" transform="rotate(-25 355 547.3)">IgG</text>
<text x="381.4" y="547.7" font-size="10" font-weight="bold" text-anchor="end" transform="rotate(-25 381.4 547.7)">IgG</text>
<text x="413.2" y="546.8" font-size="10" font-weight="bold" text-anchor="end" transform="rotate(-25 413.2 546.8)">Smad2/3</text>
<text x="442.2" y="547.3" font-size="10" font-weight="bold" text-anchor="end" transform="rotate(-25 442.2 547.3)">Smad2/3</text>
<text x="469.8" y="547.6" font-size="10" font-weight="bold" text-anchor="end" transform="rotate(-25 469.8 547.6)">Cited2</text>
<text x="500" y="549" font-size="10" font-weight="bold" text-anchor="end" transform="rotate(-25 500 549)">Cited2</text>
</g>
</svg>
</body></html>
